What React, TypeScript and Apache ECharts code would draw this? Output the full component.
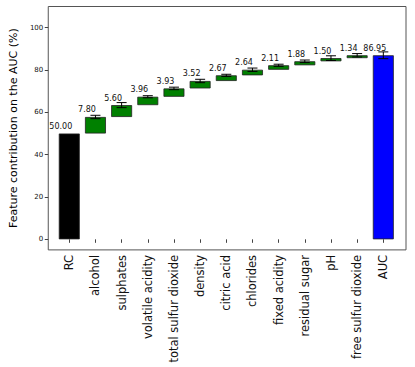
import React, { useEffect, useRef } from "react";
import * as echarts from "echarts";

const categories = [
  "RC",
  "alcohol",
  "sulphates",
  "volatile acidity",
  "total sulfur dioxide",
  "density",
  "citric acid",
  "chlorides",
  "fixed acidity",
  "residual sugar",
  "pH",
  "free sulfur dioxide",
  "AUC",
];
const contributions = [50.0, 7.8, 5.6, 3.96, 3.93, 3.52, 2.67, 2.64, 2.11, 1.88, 1.5, 1.34, 86.95];
const errors = [0, 0.8, 1.2, 0.5, 0.6, 0.8, 0.5, 0.8, 0.5, 0.6, 1.1, 0.8, 1.6];
const barColors = [
  "#000000",
  "#008000",
  "#008000",
  "#008000",
  "#008000",
  "#008000",
  "#008000",
  "#008000",
  "#008000",
  "#008000",
  "#008000",
  "#008000",
  "#0000ff",
];
const yTicks = [0, 20, 40, 60, 80, 100];

export default function App() {
  const ref = useRef<HTMLDivElement>(null);
  useEffect(() => {
    if (!ref.current) return;
    const chart = echarts.init(ref.current, null, { renderer: "svg" });
    const n = categories.length;
    // waterfall bases: first and last bars start at 0, the rest stack on the running total
    const bases: number[] = [];
    let run = 0;
    for (let i = 0; i < n; i++) {
      if (i === 0 || i === n - 1) {
        bases.push(0);
      } else {
        bases.push(run);
      }
      if (i < n - 1) run += contributions[i];
    }
    const tops = contributions.map((c, i) => bases[i] + c);
    const font = "DejaVu Sans";
    const gTop = 6.5;
    const gBottom = 367 - 249.9;
    chart.setOption({
      animation: false,
      grid: [
        { left: 43, right: 9, top: gTop, bottom: gBottom, show: true, borderColor: "#555", borderWidth: 1, backgroundColor: "transparent" },
        { left: 56.2, right: 18.6, top: gTop, bottom: gBottom },
      ],
      xAxis: [
        { gridIndex: 0, type: "value", min: 0, max: 1, show: false },
        {
          gridIndex: 1,
          type: "category",
          data: categories,
          axisLine: { show: false },
          axisTick: { show: true, alignWithLabel: true, length: 3.5, lineStyle: { color: "#444" } },
          axisLabel: { rotate: 90, fontSize: 11.5, fontFamily: font, color: "#111", margin: 5, interval: 0 },
        },
      ],
      yAxis: [
        {
          gridIndex: 0,
          type: "value",
          min: -5,
          max: 110,
          splitLine: { show: false },
          axisLine: { show: false },
          axisTick: { show: true, length: 3.5, lineStyle: { color: "#444" }, customValues: yTicks },
          axisLabel: { fontSize: 7, fontFamily: font, color: "#111", margin: 5, customValues: yTicks },
          name: "Feature contribution on the AUC (%)",
          nameLocation: "middle",
          nameGap: 28,
          nameTextStyle: { fontSize: 11, fontFamily: font, color: "#000" },
        },
        { gridIndex: 1, type: "value", min: -5, max: 110, show: false, splitLine: { show: false } },
      ],
      series: [
        {
          type: "bar",
          xAxisIndex: 1,
          yAxisIndex: 1,
          stack: "w",
          barWidth: "80%",
          itemStyle: { color: "transparent" },
          data: bases,
          silent: true,
        },
        {
          type: "bar",
          xAxisIndex: 1,
          yAxisIndex: 1,
          stack: "w",
          barWidth: "80%",
          data: contributions.map((v, i) => ({
            value: v,
            itemStyle: { color: barColors[i], borderColor: "#222", borderWidth: 0.8 },
          })),
          label: {
            show: true,
            position: "top",
            distance: 3,
            offset: [-8.5, 0],
            fontSize: 8,
            fontFamily: font,
            color: "#111",
            formatter: (p: any) => Number(p.value).toFixed(2),
          },
        },
        {
          type: "custom",
          xAxisIndex: 1,
          yAxisIndex: 1,
          z: 5,
          data: tops.map((t, i) => [i, t, errors[i]]),
          renderItem: (params: any, api: any) => {
            const i = api.value(0);
            const t = api.value(1);
            const e = api.value(2);
            if (!e) return null;
            const hi = api.coord([i, t + e]);
            const lo = api.coord([i, t - e]);
            const cw = 5;
            const style = { stroke: "#000", lineWidth: 1, fill: null };
            return {
              type: "group",
              children: [
                { type: "line", shape: { x1: hi[0], y1: hi[1], x2: lo[0], y2: lo[1] }, style },
                { type: "line", shape: { x1: hi[0] - cw, y1: hi[1], x2: hi[0] + cw, y2: hi[1] }, style },
                { type: "line", shape: { x1: lo[0] - cw, y1: lo[1], x2: lo[0] + cw, y2: lo[1] }, style },
              ],
            };
          },
        },
      ],
    });
    return () => chart.dispose();
  }, []);
  return (
    <div
      ref={ref}
      style={{ position: "fixed", left: 0, top: 0, width: 415, height: 367, background: "#fff" }}
    />
  );
}
